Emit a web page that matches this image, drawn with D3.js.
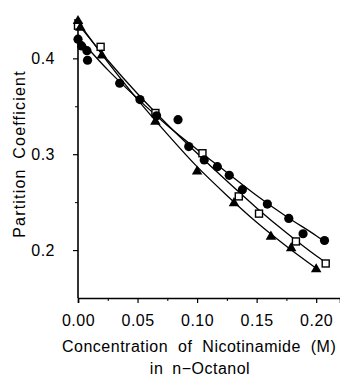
<!DOCTYPE html>
<html>
<head>
<meta charset="utf-8">
<script src="https://cdn.jsdelivr.net/npm/d3@7"></script>
<style>
  html, body { margin: 0; padding: 0; background: #fff; }
  svg { display: block; }
  text { font-family: "Liberation Sans", Arial, sans-serif; fill: #000; }
</style>
</head>
<body>
<svg id="chart" width="340" height="379"></svg>
<script>
// ---- data ----
const circleX = [0, 0.003, 0.0075, 0.008, 0.035, 0.052, 0.066, 0.084, 0.093, 0.106, 0.117, 0.127, 0.138, 0.159, 0.177, 0.189, 0.207];
const circleY = [0.420, 0.413, 0.408, 0.398, 0.374, 0.357, 0.340, 0.336, 0.308, 0.294, 0.287, 0.278, 0.263, 0.248, 0.233, 0.217, 0.210];

const squareX = [0, 0.019, 0.065, 0.1045, 0.135, 0.152, 0.183, 0.208];
const squareY = [0.434, 0.412, 0.343, 0.301, 0.256, 0.238, 0.209, 0.186];

const triangleX = [0, 0.002, 0.020, 0.065, 0.100, 0.131, 0.162, 0.179, 0.200];
const triangleY = [0.439, 0.432, 0.403, 0.334, 0.282, 0.249, 0.214, 0.202, 0.180];

// fitted curves
const fitX = [0, 0.025, 0.05, 0.075, 0.1, 0.125, 0.15, 0.175, 0.2];
const circleFit = [0.422, 0.388, 0.358, 0.330, 0.305, 0.281, 0.257, 0.235, 0.215];
const circleFitEnd = [0.207, 0.209];
const squareFit = [0.436, 0.398, 0.363, 0.331, 0.301, 0.272, 0.244, 0.218, 0.194];
const squareFitEnd = [0.208, 0.187];
const triangleFit = [0.438, 0.396, 0.357, 0.321, 0.287, 0.257, 0.229, 0.204, 0.181];

const xTicks = [0, 0.05, 0.10, 0.15, 0.20];
const xTickLabels = ["0.00", "0.05", "0.10", "0.15", "0.20"];
const xMinor = [0.025, 0.075, 0.125, 0.175];
const yTicks = [0.2, 0.3, 0.4];
const yTickLabels = ["0.2", "0.3", "0.4"];
const yMinor = [0.25, 0.35];

const xTitle1 = "Concentration of Nicotinamide (M)";
const xTitle2 = "in n\u2212Octanol";
const yTitle = "Partition Coefficient";

// ---- chart ----
const svg = d3.select("#chart");
const x = d3.scaleLinear().domain([0, 0.22]).range([78, 340]);
const y = d3.scaleLinear().domain([0.15, 0.44]).range([298, 20]);

// axes
const xAxis = d3.axisBottom(x).tickValues(xTicks).tickSize(5).tickFormat((d, i) => xTickLabels[i]).tickPadding(12);
const gx = svg.append("g").attr("transform", `translate(0,${y(0.15)})`).call(xAxis);
gx.select(".domain").attr("stroke-width", 1.6);
gx.selectAll(".tick line").attr("stroke-width", 1.2);
gx.selectAll(".tick text").style("font-size", "16px").style("letter-spacing", "0.5px").attr("font-family", null);

const xAxisMinor = d3.axisBottom(x).tickValues(xMinor).tickSize(3).tickFormat("");
const gxm = svg.append("g").attr("transform", `translate(0,${y(0.15)})`).call(xAxisMinor);
gxm.select(".domain").remove();

const yAxis = d3.axisLeft(y).tickValues(yTicks).tickSize(5).tickFormat((d, i) => yTickLabels[i]).tickPadding(18);
const gy = svg.append("g").attr("transform", `translate(${x(0)},0)`).call(yAxis);
gy.select(".domain").attr("stroke-width", 1.6).attr("d", `M0,${y(0.15)}V${y(0.44)}M-4,${y(0.44)}H0`);
gy.selectAll(".tick line").attr("stroke-width", 1.2);
gy.selectAll(".tick text").style("font-size", "16px").style("letter-spacing", "0.5px").attr("font-family", null);

const yAxisMinor = d3.axisLeft(y).tickValues(yMinor).tickSize(3).tickFormat("");
const gym = svg.append("g").attr("transform", `translate(${x(0)},0)`).call(yAxisMinor);
gym.select(".domain").remove();

// titles
svg.append("text").attr("x", 62).attr("y", 352).attr("text-anchor", "start")
  .style("font-size", "16px").style("letter-spacing", "0.5px").style("word-spacing", "5px").text(xTitle1);
svg.append("text").attr("x", 200).attr("y", 374).attr("text-anchor", "middle")
  .style("font-size", "16px").style("letter-spacing", "0.5px").style("word-spacing", "4px").text(xTitle2);
svg.append("text").attr("transform", "translate(25,154) rotate(-90)").attr("text-anchor", "middle")
  .style("font-size", "16px").style("letter-spacing", "1.2px").style("word-spacing", "4px").text(yTitle);

// fit curves
const line = d3.line().x(d => x(d[0])).y(d => y(d[1])).curve(d3.curveMonotoneX);
const cFit = fitX.map((v, i) => [v, circleFit[i]]).concat([circleFitEnd]);
const sFit = fitX.map((v, i) => [v, squareFit[i]]).concat([squareFitEnd]);
const tFit = fitX.map((v, i) => [v, triangleFit[i]]);
[cFit, sFit, tFit].forEach(pts => {
  svg.append("path").attr("d", line(pts)).attr("fill", "none").attr("stroke", "#000").attr("stroke-width", 1.3);
});

// markers
const sq = 7;
svg.append("g").selectAll("rect").data(squareX.map((v, i) => [v, squareY[i]])).join("rect")
  .attr("x", d => x(d[0]) - sq / 2).attr("y", d => y(d[1]) - sq / 2)
  .attr("width", sq).attr("height", sq)
  .attr("fill", "#fff").attr("stroke", "#000").attr("stroke-width", 1.4);

const tri = d3.symbol().type(d3.symbolTriangle).size(48);
svg.append("g").selectAll("path").data(triangleX.map((v, i) => [v, triangleY[i]])).join("path")
  .attr("d", tri).attr("transform", d => `translate(${x(d[0])},${y(d[1])})`)
  .attr("fill", "#000");

svg.append("g").selectAll("circle").data(circleX.map((v, i) => [v, circleY[i]])).join("circle")
  .attr("cx", d => x(d[0])).attr("cy", d => y(d[1])).attr("r", 4.6)
  .attr("fill", "#000");
</script>
</body>
</html>
